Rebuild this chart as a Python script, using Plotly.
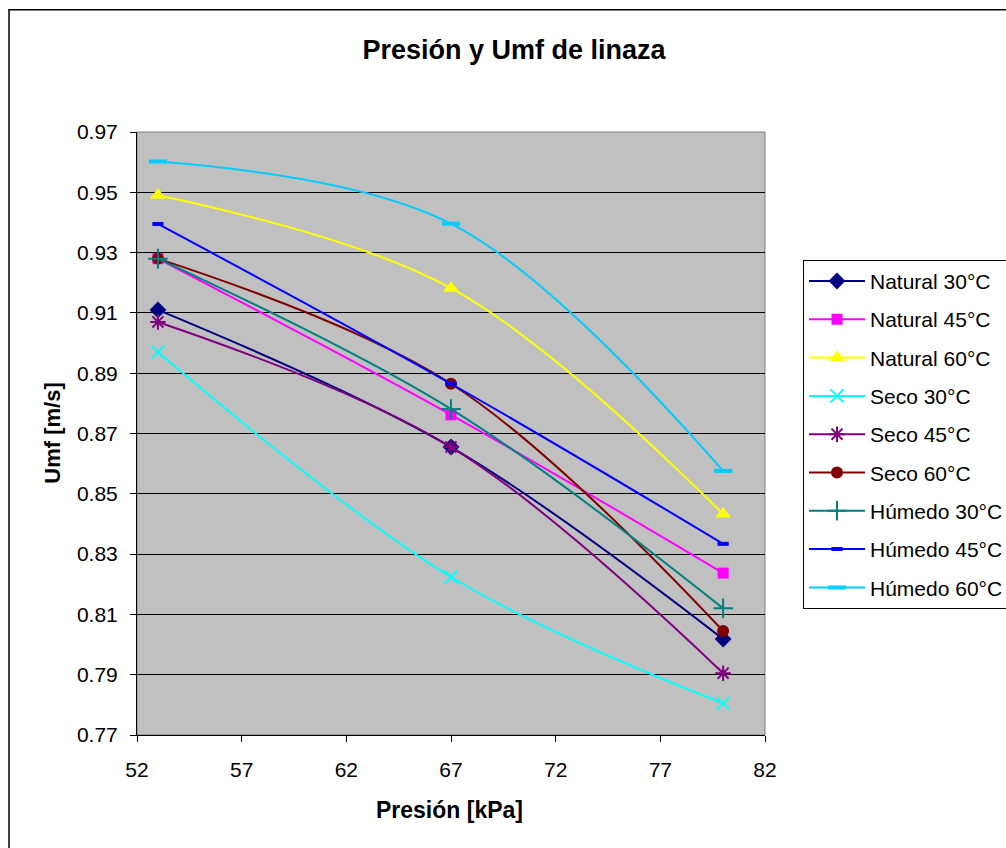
import plotly.graph_objects as go

presion = [53, 67, 80]

series_names = ["Natural 30°C", "Natural 45°C", "Natural 60°C",
                "Seco 30°C", "Seco 45°C", "Seco 60°C",
                "Húmedo 30°C", "Húmedo 45°C", "Húmedo 60°C"]

natural_30 = [0.911, 0.8655, 0.8018]
natural_45 = [0.928, 0.8762, 0.8237]
natural_60 = [0.949, 0.9182, 0.8433]
seco_30 = [0.897, 0.8224, 0.7805]
seco_45 = [0.907, 0.8655, 0.7905]
seco_60 = [0.928, 0.8865, 0.8045]
humedo_30 = [0.928, 0.8781, 0.8120]
humedo_45 = [0.9395, 0.8865, 0.8334]
humedo_60 = [0.9602, 0.9396, 0.8576]

values = [natural_30, natural_45, natural_60, seco_30, seco_45, seco_60,
          humedo_30, humedo_45, humedo_60]

styles = [
    dict(color="#000080", symbol="diamond", size=13, lw=0),
    dict(color="#FF00FF", symbol="square", size=11, lw=0),
    dict(color="#FFFF00", symbol="triangle-up", size=14, lw=0),
    dict(color="#00FFFF", symbol="x-thin", size=13, lw=2),
    dict(color="#800080", symbol="asterisk", size=13, lw=2),
    dict(color="#800000", symbol="circle", size=12, lw=0),
    dict(color="#008080", symbol="cross-thin", size=14, lw=2),
    dict(color="#0000FF", symbol="line-ew", size=8, lw=4),
    dict(color="#00CCFF", symbol="line-ew", size=13, lw=4),
]

FONT = "Arial, Liberation Sans, sans-serif"

fig = go.Figure()
for i, (name, vals, st) in enumerate(zip(series_names, values, styles)):
    fig.add_trace(go.Scatter(
        x=presion, y=vals, name=name, mode="lines+markers",
        legendgroup=f"g{i}",
        line=dict(color=st["color"], width=2, shape="spline", smoothing=1.0),
        marker=dict(symbol=st["symbol"], size=st["size"], color=st["color"],
                    line=dict(color=st["color"], width=st["lw"])),
    ))

fig.update_layout(
    width=1006, height=848,
    margin=dict(l=137, r=241, t=132, b=113, autoexpand=False),
    paper_bgcolor="white",
    plot_bgcolor="#C0C0C0",
    font=dict(family=FONT, size=21, color="black"),
    title=dict(text="<b>Presión y Umf de linaza</b>", x=0.511, xref="container",
               xanchor="center", y=1 - 50 / 848, yref="container", yanchor="middle",
               font=dict(family=FONT, size=27, color="black")),
    showlegend=True,
    legend=dict(x=1.0605, y=0.788, xanchor="left", yanchor="top",
                bordercolor="black", borderwidth=1, bgcolor="white",
                font=dict(family=FONT, size=21, color="black"),
                tracegroupgap=8, itemwidth=56, traceorder="grouped"),
    xaxis=dict(range=[52, 82], tick0=52, dtick=5, showgrid=False, zeroline=False,
               showline=True, linecolor="black", linewidth=1,
               ticks="outside", ticklen=6, tickcolor="black",
               ticklabelstandoff=10,
               tickfont=dict(family=FONT, size=21, color="black")),
    yaxis=dict(range=[0.77, 0.97], tick0=0.77, dtick=0.02, tickformat=".2f",
               showgrid=True, gridcolor="black", gridwidth=1, zeroline=False,
               showline=True, linecolor="black", linewidth=1,
               ticks="outside", ticklen=6, tickcolor="black",
               ticklabelstandoff=8,
               tickfont=dict(family=FONT, size=21, color="black")),
    shapes=[
        dict(type="rect", xref="paper", yref="paper", x0=0, x1=1, y0=0, y1=1,
             line=dict(color="#808080", width=1), layer="below"),
        dict(type="rect", xref="paper", yref="paper", x0=-0.2038, x1=1.6,
             y0=-0.4, y1=1.2029, line=dict(color="black", width=1.5), layer="below"),
    ],
    annotations=[
        dict(text="<b>Umf [m/s]</b>", xref="paper", yref="paper",
             x=-0.135, y=0.5, xanchor="center", yanchor="middle", textangle=-90,
             showarrow=False, font=dict(family=FONT, size=22, color="black")),
        dict(text="<b>Presión [kPa]</b>", xref="paper", yref="paper",
             x=0.497, y=-0.1244, xanchor="center", yanchor="middle",
             showarrow=False, font=dict(family=FONT, size=23, color="black")),
    ],
)

fig.write_html("out.html")
